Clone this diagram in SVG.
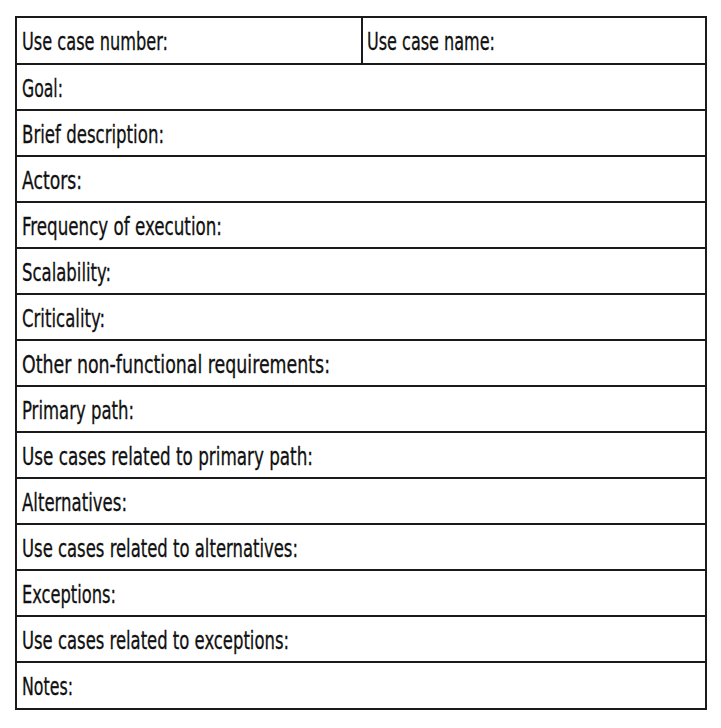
<svg xmlns="http://www.w3.org/2000/svg" width="721" height="728" viewBox="0 0 721 728">
<style>
.t{font-family:"DejaVu Sans Condensed","DejaVu Sans","Liberation Sans",sans-serif;font-stretch:condensed;font-size:24px;fill:#111;stroke:#111;stroke-width:0.3}
.ln{stroke:#1a1a1a;stroke-width:2;fill:none}
</style>
<rect x="0" y="0" width="721" height="728" fill="#fff"/>
<g id="connectors">
<rect class="ln" x="16" y="17" width="690" height="692"/>
<path class="ln" d="M16 64H706M16 110H706M16 156H706M16 202H706M16 248H706M16 294H706M16 340H706M16 386H706M16 432H706M16 478H706M16 524H706M16 570H706M16 616H706M16 662H706"/>
<path class="ln" stroke-width="1.5" d="M362 17V64"/>
</g>
<g id="use-case-number"><text class="t" x="22" y="50" textLength="146" lengthAdjust="spacingAndGlyphs">Use case number:</text></g>
<g id="use-case-name"><text class="t" x="367" y="50" textLength="128" lengthAdjust="spacingAndGlyphs">Use case name:</text></g>
<g id="goal"><text class="t" x="22" y="96.5" textLength="41" lengthAdjust="spacingAndGlyphs">Goal:</text></g>
<g id="brief-description"><text class="t" x="22" y="142.5" textLength="142" lengthAdjust="spacingAndGlyphs">Brief description:</text></g>
<g id="actors"><text class="t" x="22" y="188.5" textLength="60" lengthAdjust="spacingAndGlyphs">Actors:</text></g>
<g id="frequency"><text class="t" x="22" y="234.5" textLength="200" lengthAdjust="spacingAndGlyphs">Frequency of execution:</text></g>
<g id="scalability"><text class="t" x="22" y="280.5" textLength="89" lengthAdjust="spacingAndGlyphs">Scalability:</text></g>
<g id="criticality"><text class="t" x="22" y="326.5" textLength="83" lengthAdjust="spacingAndGlyphs">Criticality:</text></g>
<g id="other-nfr"><text class="t" x="22" y="372.5" textLength="308" lengthAdjust="spacingAndGlyphs">Other non-functional requirements:</text></g>
<g id="primary-path"><text class="t" x="22" y="418.5" textLength="112" lengthAdjust="spacingAndGlyphs">Primary path:</text></g>
<g id="uc-primary-path"><text class="t" x="22" y="464.5" textLength="291" lengthAdjust="spacingAndGlyphs">Use cases related to primary path:</text></g>
<g id="alternatives"><text class="t" x="22" y="510.5" textLength="105" lengthAdjust="spacingAndGlyphs">Alternatives:</text></g>
<g id="uc-alternatives"><text class="t" x="22" y="556.5" textLength="276" lengthAdjust="spacingAndGlyphs">Use cases related to alternatives:</text></g>
<g id="exceptions"><text class="t" x="22" y="602.5" textLength="94" lengthAdjust="spacingAndGlyphs">Exceptions:</text></g>
<g id="uc-exceptions"><text class="t" x="22" y="648.5" textLength="267" lengthAdjust="spacingAndGlyphs">Use cases related to exceptions:</text></g>
<g id="notes"><text class="t" x="22" y="695" textLength="51" lengthAdjust="spacingAndGlyphs">Notes:</text></g>
</svg>
